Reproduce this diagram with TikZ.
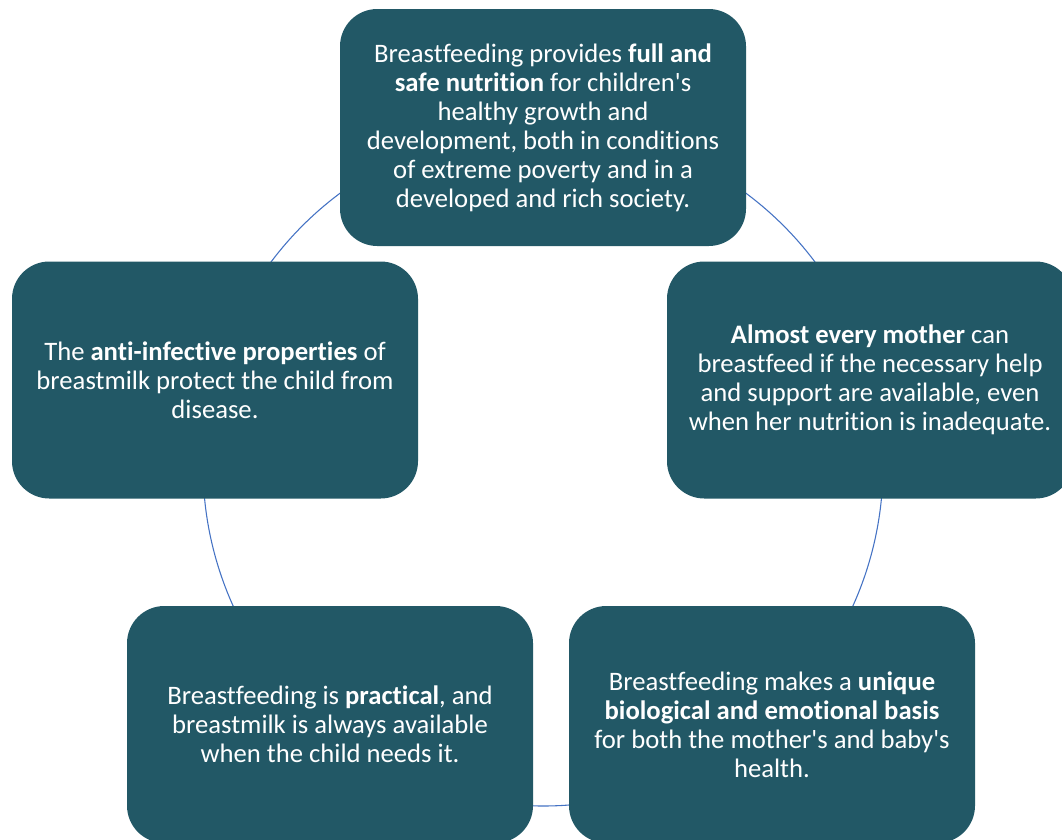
\documentclass[tikz,border=0pt]{standalone}
\usepackage{fontspec}
\setmainfont{Carlito}[Ligatures={TeXOff,CommonOff}]
\usetikzlibrary{backgrounds}
\definecolor{boxteal}{HTML}{225866}
\definecolor{ringblue}{HTML}{4472C4}
\tikzset{
  px/.style={x=0.75pt,y=-0.75pt},
  factbox/.style={draw=none, fill=boxteal, rounded corners=28pt,
    minimum width=304.5pt, minimum height=177.75pt, align=center,
    text=white, inner sep=0pt,
    font=\fontsize{20pt}{21.75pt}\selectfont},
  ring/.style={draw=ringblue, line width=0.8pt}
}
\begin{document}
\begin{tikzpicture}[px]
  \useasboundingbox (0,0) rectangle (1062,839);
  \clip (0,0) rectangle (1062,839);
  \coordinate (c) at (543,466);

  \node[factbox] (top) at (543,127.5) {Breastfeeding provides \textbf{full and}\\
    \textbf{safe nutrition} for children's\\ healthy growth and\\
    development, both in conditions\\ of extreme poverty and in a\\
    developed and rich society.};
  \node[factbox] (right) at (870,380) {\textbf{Almost every mother} can\\
    breastfeed if the necessary help\\ and support are available, even\\
    when her nutrition is inadequate.};
  \node[factbox] (botright) at (772,724.5) {Breastfeeding makes a \textbf{unique}\\
    \textbf{biological and emotional basis}\\ for both the mother's and baby's\\
    health.};
  \node[factbox] (botleft) at (330,724.5) {Breastfeeding is \textbf{practical}, and\\
    breastmilk is always available\\ when the child needs it.};
  \node[factbox] (left) at (215,380) {The \textbf{anti-infective properties} of\\
    breastmilk protect the child from\\ disease.};

  % white page, then ring segments running between neighbouring boxes,
  % tucked underneath them
  \begin{scope}[on background layer]
    \fill[white] (0,0) rectangle (1062,839);
    \draw[ring] (c) ++(56:255pt) arc[start angle=56, end angle=35, radius=255pt];
    \draw[ring] (c) ++(-3:255pt) arc[start angle=-3, end angle=-26, radius=255pt];
    \draw[ring] (c) ++(277:255pt) arc[start angle=277, end angle=265, radius=255pt];
    \draw[ring] (c) ++(207:255pt) arc[start angle=207, end angle=183, radius=255pt];
    \draw[ring] (c) ++(145:255pt) arc[start angle=145, end angle=124, radius=255pt];
  \end{scope}
\end{tikzpicture}
\end{document}
